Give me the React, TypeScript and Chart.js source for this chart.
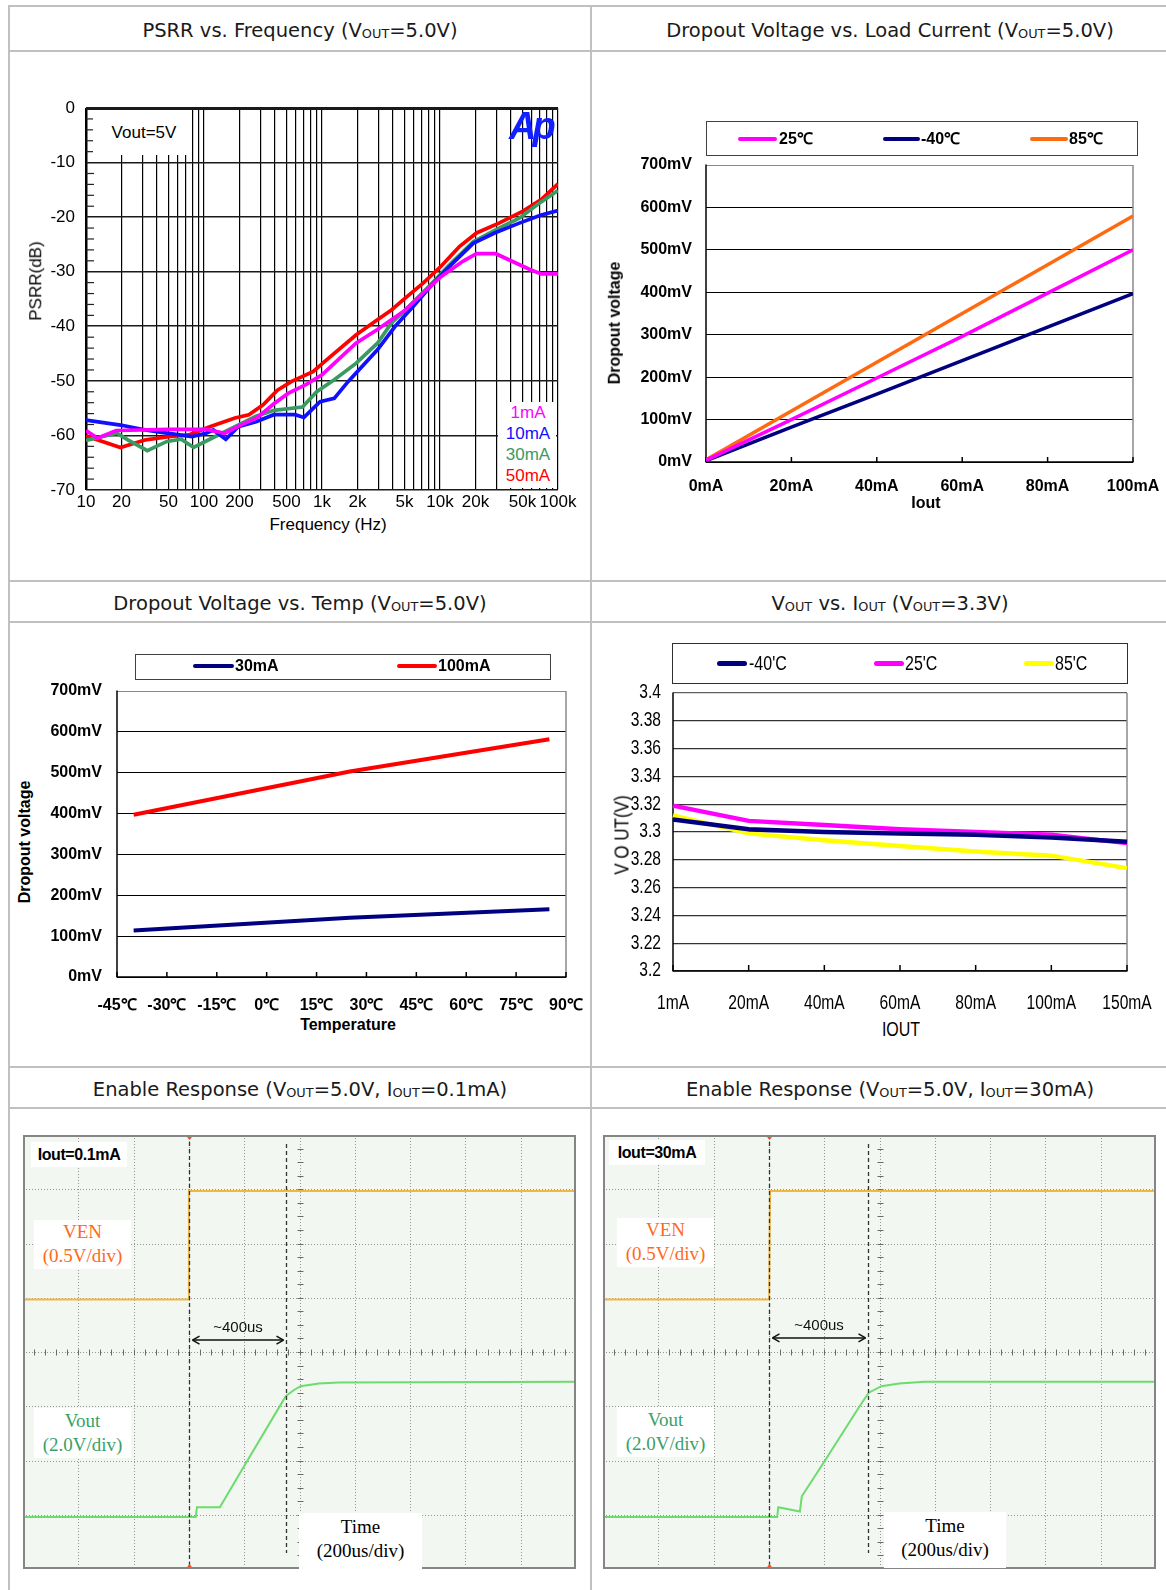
import React, { useEffect, useRef } from 'react';
import { Chart, registerables } from 'chart.js';
Chart.register(...registerables);

const SANS = "'Liberation Sans', Arial, sans-serif";
const SERIF = "'Liberation Serif', 'Times New Roman', serif";
const HEAD = "'DejaVu Sans', sans-serif";

// ---------- PSRR vs Frequency ----------
const PSRR_GRID_HZ = [10, 20, 30, 40, 50, 60, 70, 80, 90, 100, 200, 300, 400, 500, 600, 700, 800, 900, 1000, 2000, 3000, 4000, 5000, 6000, 7000, 8000, 9000, 10000, 20000, 30000, 40000, 50000, 60000, 70000, 80000, 90000, 100000];
const PSRR_LABEL_HZ = [10, 20, 50, 100, 200, 500, 1000, 2000, 5000, 10000, 20000, 50000, 100000];
const PSRR_LABEL_TEXT = ['10', '20', '50', '100', '200', '500', '1k', '2k', '5k', '10k', '20k', '50k', '100k'];
const PSRR_SERIES = ['1mA', '10mA', '30mA', '50mA'];
const PSRR_1MA_HZ = [10, 12.5, 18, 50, 104, 150, 200, 280, 391, 516, 731, 1000, 1270, 1940, 2950, 3880, 5100, 7200, 10200, 15600, 20400, 29700, 43900, 57800, 72000, 100000];
const PSRR_1MA_DB = [-59.1, -60.5, -59.1, -58.9, -58.9, -59.6, -58.2, -56.8, -54.2, -52.3, -50.7, -48.9, -46.8, -43.1, -40.6, -38.8, -37.0, -33.9, -30.9, -28.1, -26.7, -26.7, -28.4, -29.6, -30.4, -30.4];
const PSRR_10MA_HZ = [10, 19.6, 29.8, 45.2, 79, 104, 120, 153, 195, 276, 391, 591, 703, 963, 1270, 1670, 2950, 4170, 5900, 8300, 11700, 19100, 29000, 47000, 72000, 100000];
const PSRR_10MA_DB = [-57.2, -58.1, -58.9, -59.5, -60.2, -59.6, -59.0, -60.7, -58.4, -57.5, -56.2, -56.2, -56.7, -53.8, -53.2, -50.1, -44.3, -40.0, -36.4, -32.7, -29.3, -24.8, -22.9, -21.1, -19.6, -18.8];
const PSRR_30MA_HZ = [10, 18.3, 22.6, 33.1, 48.5, 64, 81.7, 112, 183, 276, 391, 683, 902, 1270, 1940, 2950, 3880, 5100, 8300, 11700, 19100, 31600, 47000, 67000, 100000];
const PSRR_30MA_DB = [-60.9, -59.6, -60.8, -62.8, -61.1, -60.7, -62.2, -60.7, -58.4, -56.5, -55.4, -54.8, -52.0, -49.8, -46.8, -43.1, -39.4, -37.0, -32.4, -29.0, -24.5, -22.0, -20.2, -17.7, -15.1];
const PSRR_50MA_HZ = [10, 19.6, 32, 52, 74, 112, 183, 240, 317, 419, 554, 839, 1100, 1940, 2950, 3880, 5100, 7200, 10200, 14600, 20400, 31600, 50500, 72000, 100000];
const PSRR_50MA_DB = [-60.1, -62.2, -60.8, -60.2, -59.9, -58.4, -56.8, -56.2, -54.4, -51.7, -50.1, -48.3, -46.1, -41.6, -38.8, -37.0, -34.8, -32.1, -29.0, -25.4, -22.9, -21.1, -18.9, -16.8, -13.9];
const PSRR_COLORS = ['#ff00ff', '#1010ff', '#3a9a62', '#ff0000'];

// ---------- Dropout vs Load current ----------
const LOAD_MA = [0, 20, 40, 60, 80, 100];
const DROP_25C = [4, 100, 198, 296, 398, 500];
const DROP_M40C = [3, 82, 160, 239, 318, 397];
const DROP_85C = [5, 120, 235, 350, 465, 580];

// ---------- Dropout vs Temperature ----------
const TEMP_C = [-40, 25, 85];
const DROP_30MA = [114, 145, 166];
const DROP_100MA = [397, 503, 582];

// ---------- Vout vs Iout ----------
const IOUT_LABELS = ['1mA', '20mA', '40mA', '60mA', '80mA', '100mA', '150mA'];
const VOUT_M40C = [3.309, 3.302, 3.3, 3.299, 3.298, 3.296, 3.293];
const VOUT_25C = [3.319, 3.308, 3.305, 3.302, 3.3, 3.298, 3.292];
const VOUT_85C = [3.312, 3.299, 3.294, 3.29, 3.286, 3.283, 3.274];

// ---------- Enable response scope traces (time us, divisions from bottom) ----------
const EN1_VEN_T = [-600, -3, 0, 1400];
const EN1_VEN_DIV = [4.97, 4.97, 6.97, 6.97];
const EN1_VOUT_T = [-600, 25, 29, 112, 200, 325, 351, 380, 404, 470, 542, 1400];
const EN1_VOUT_DIV = [0.96, 0.96, 1.14, 1.14, 1.9, 2.97, 3.19, 3.3, 3.37, 3.42, 3.44, 3.45];
const EN1_CURSORS = [0, 351];
const EN2_VEN_T = [-600, 1, 4, 1400];
const EN2_VEN_DIV = [4.97, 4.97, 6.97, 6.97];
const EN2_VOUT_T = [-600, 30, 34, 112, 119, 203, 328, 361, 407, 471, 563, 1400];
const EN2_VOUT_DIV = [0.96, 0.96, 1.14, 1.06, 1.34, 2.0, 3.0, 3.25, 3.37, 3.42, 3.45, 3.45];
const EN2_CURSORS = [2, 358];

const zip = (xs: number[], ys: number[]) => xs.map((x, i) => ({ x, y: ys[i] }));

function line(ctx: CanvasRenderingContext2D, x1: number, y1: number, x2: number, y2: number) {
  ctx.beginPath();
  ctx.moveTo(x1, y1);
  ctx.lineTo(x2, y2);
  ctx.stroke();
}

const ChartCanvas = ({ x, y, w, h, config }: { x: number; y: number; w: number; h: number; config: () => any }) => {
  const ref = useRef<HTMLCanvasElement>(null);
  useEffect(() => {
    const chart = new Chart(ref.current as HTMLCanvasElement, config());
    return () => chart.destroy();
  }, []);
  return <canvas ref={ref} width={w} height={h} style={{ position: 'absolute', left: x, top: y, width: w, height: h }} />;
};

const baseOpts = (pad: { top: number; right: number }) => ({
  animation: false,
  responsive: false,
  devicePixelRatio: 1,
  layout: { padding: { left: 0, top: pad.top, right: pad.right, bottom: 0 } },
  plugins: { legend: { display: false }, tooltip: { enabled: false } },
  elements: { point: { radius: 0 }, line: { tension: 0 } },
});

const framePlugin = (rightColor: string, tick: number, axisW: number) => ({
  id: 'frame',
  beforeDatasetsDraw(chart: any) {
    const { ctx, chartArea: a, scales } = chart;
    ctx.save();
    ctx.strokeStyle = rightColor;
    ctx.lineWidth = 1.5;
    line(ctx, a.right, a.top, a.right, a.bottom);
    ctx.strokeStyle = '#000';
    ctx.lineWidth = axisW;
    line(ctx, a.left, a.top - 0.5, a.left, a.bottom + 0.5);
    line(ctx, a.left, a.bottom, a.right + 0.5, a.bottom);
    const xs = scales.x;
    ctx.lineWidth = 1.5;
    xs.ticks.forEach((_t: any, i: number) => {
      const px = xs.getPixelForTick(i);
      line(ctx, px, a.bottom, px, a.bottom - tick);
    });
    ctx.restore();
  },
});

// ---------- configs ----------
const psrrConfig = () => ({
  type: 'line',
  data: {
    datasets: [
      zip(PSRR_1MA_HZ, PSRR_1MA_DB),
      zip(PSRR_10MA_HZ, PSRR_10MA_DB),
      zip(PSRR_30MA_HZ, PSRR_30MA_DB),
      zip(PSRR_50MA_HZ, PSRR_50MA_DB),
    ].map((d, i) => ({ label: PSRR_SERIES[i], data: d, borderColor: PSRR_COLORS[i], borderWidth: 3.7, pointRadius: 0 })),
  },
  options: {
    ...baseOpts({ top: 22, right: 22 }),
    scales: {
      x: {
        type: 'logarithmic',
        min: 10,
        max: 100000,
        afterFit: (s: any) => { s.height = 25; },
        afterBuildTicks: (s: any) => { s.ticks = PSRR_GRID_HZ.map((v) => ({ value: v })); },
        ticks: {
          autoSkip: false, maxRotation: 0, minRotation: 0, padding: 2, color: '#000',
          font: { family: SANS, size: 17 },
          callback: (v: number) => { const i = PSRR_LABEL_HZ.indexOf(v); return i >= 0 ? PSRR_LABEL_TEXT[i] : ''; },
        },
        grid: { color: '#000', lineWidth: (c: any) => (c.tick && c.tick.value === 10 ? 2.5 : 1.2), drawTicks: false },
        border: { display: false },
      },
      y: {
        min: -70,
        max: 0,
        afterFit: (s: any) => { s.width = 56; },
        ticks: { stepSize: 10, padding: 11, color: '#000', font: { family: SANS, size: 17 } },
        grid: { color: '#1a1a1a', lineWidth: (c: any) => (c.tick && c.tick.value === 0 ? 3 : 1.6), drawTicks: false },
        border: { display: false },
      },
    },
  },
  plugins: [
    {
      id: 'minor',
      afterDraw(chart: any) {
        const { ctx, chartArea: a, scales } = chart;
        ctx.save();
        ctx.strokeStyle = '#222';
        ctx.lineWidth = 1.2;
        for (let v = -68; v < 0; v += 2) {
          if (v % 10 === 0) continue;
          const py = scales.y.getPixelForValue(v);
          line(ctx, a.left, py, a.left + 8, py);
        }
        ctx.restore();
      },
    },
  ],
});

const boldTick = (size = 16) => ({ color: '#000', font: { family: SANS, size, weight: 'bold' } });

const loadConfig = () => ({
  type: 'line',
  data: {
    datasets: [
      { data: zip(LOAD_MA, DROP_25C), borderColor: '#ff00ff', borderWidth: 3.5 },
      { data: zip(LOAD_MA, DROP_M40C), borderColor: '#000080', borderWidth: 3.5 },
      { data: zip(LOAD_MA, DROP_85C), borderColor: '#ff6a10', borderWidth: 3.5 },
    ],
  },
  options: {
    ...baseOpts({ top: 24, right: 42 }),
    scales: {
      x: {
        type: 'linear', min: 0, max: 100,
        afterFit: (s: any) => { s.height = 33; },
        ticks: { ...boldTick(), stepSize: 20, padding: 15, maxRotation: 0, autoSkip: false, callback: (v: number) => v + 'mA' },
        grid: { display: false, drawTicks: false },
        border: { display: false },
      },
      y: {
        min: 0, max: 700,
        afterFit: (s: any) => { s.width = 86; },
        ticks: { ...boldTick(), stepSize: 100, padding: 14, callback: (v: number) => v + 'mV' },
        grid: { color: (c: any) => (c.tick && c.tick.value === 700 ? '#8a8a8a' : '#000'), lineWidth: 1, drawTicks: false },
        border: { display: false },
      },
    },
  },
  plugins: [framePlugin('#8a8a8a', 5, 1.5)],
});

const tempConfig = () => ({
  type: 'line',
  data: {
    datasets: [
      { data: zip(TEMP_C, DROP_30MA), borderColor: '#000080', borderWidth: 4 },
      { data: zip(TEMP_C, DROP_100MA), borderColor: '#ff0000', borderWidth: 4 },
    ],
  },
  options: {
    ...baseOpts({ top: 25, right: 38 }),
    scales: {
      x: {
        type: 'linear', min: -45, max: 90,
        afterFit: (s: any) => { s.height = 35; },
        ticks: { ...boldTick(), stepSize: 15, padding: 19, maxRotation: 0, autoSkip: false, callback: (v: number) => v + '℃' },
        grid: { display: false, drawTicks: false },
        border: { display: false },
      },
      y: {
        min: 0, max: 700,
        afterFit: (s: any) => { s.width = 77; },
        ticks: { ...boldTick(), stepSize: 100, padding: 15, callback: (v: number) => v + 'mV' },
        grid: { color: (c: any) => (c.tick && c.tick.value === 700 ? '#8a8a8a' : '#000'), lineWidth: 1, drawTicks: false },
        border: { display: false },
      },
    },
  },
  plugins: [framePlugin('#8a8a8a', 5, 1.5)],
});

const fmtV = (v: number) => String(Math.round(v * 100) / 100);

const voutConfig = () => ({
  type: 'line',
  data: {
    labels: IOUT_LABELS,
    datasets: [
      { data: VOUT_M40C, borderColor: '#000080', borderWidth: 4.5 },
      { data: VOUT_25C, borderColor: '#ff00ff', borderWidth: 4.5 },
      { data: VOUT_85C, borderColor: '#ffff00', borderWidth: 4.5 },
    ],
  },
  options: {
    ...baseOpts({ top: 13, right: 33 }),
    scales: {
      x: {
        type: 'category', offset: false,
        afterFit: (s: any) => { s.height = 44; },
        ticks: { display: false, autoSkip: false },
        grid: { display: false, drawTicks: false },
        border: { display: false },
      },
      y: {
        min: 3.2, max: 3.4,
        afterFit: (s: any) => { s.width = 73; },
        ticks: { display: false, stepSize: 0.02 },
        grid: { color: (c: any) => (c.tick && Math.abs(c.tick.value - 3.4) < 1e-6 ? '#606060' : '#333'), lineWidth: 1.2, drawTicks: false },
        border: { display: false },
      },
    },
  },
  plugins: [
    framePlugin('#8a8a8a', 6, 1.5),
    {
      id: 'narrowLabels',
      afterDraw(chart: any) {
        const { ctx, chartArea: a, scales } = chart;
        const xs = scales.x, ys = scales.y;
        ctx.save();
        ctx.fillStyle = '#000';
        ctx.font = `19.5px ${SANS}`;
        ctx.textBaseline = 'middle';
        ys.ticks.forEach((t: any, i: number) => {
          ctx.save();
          ctx.translate(a.left - 12, ys.getPixelForTick(i));
          ctx.scale(0.8, 1);
          ctx.textAlign = 'right';
          ctx.fillText(fmtV(t.value), 0, 0);
          ctx.restore();
        });
        xs.ticks.forEach((t: any, i: number) => {
          ctx.save();
          ctx.translate(xs.getPixelForTick(i), a.bottom + 33);
          ctx.scale(0.8, 1);
          ctx.textAlign = 'center';
          ctx.fillText(String(xs.getLabelForValue(t.value)), 0, 0);
          ctx.restore();
        });
        ctx.restore();
      },
    },
  ],
});

const scopeConfig = (venT: number[], venD: number[], voT: number[], voD: number[], cursors: number[], arrowDiv: number) => () => ({
  type: 'line',
  data: {
    datasets: [
      { data: zip(venT, venD), borderColor: '#f3b640', borderWidth: 2 },
      { data: zip(voT, voD), borderColor: '#6cdc6c', borderWidth: 2 },
    ],
  },
  options: {
    ...baseOpts({ top: 0, right: 0 }),
    scales: {
      x: { type: 'linear', min: -600, max: 1400, display: false },
      y: { type: 'linear', min: 0, max: 8, display: false },
    },
  },
  plugins: [
    {
      id: 'scope',
      beforeDatasetsDraw(chart: any) {
        const { ctx, chartArea: a, scales } = chart;
        const xs = scales.x, ys = scales.y;
        ctx.save();
        ctx.fillStyle = '#f3f7f2';
        ctx.fillRect(a.left, a.top, a.right - a.left, a.bottom - a.top);
        ctx.strokeStyle = '#949494';
        ctx.lineWidth = 1;
        ctx.setLineDash([1, 2]);
        for (let t = -400; t <= 1200; t += 200) {
          const px = Math.round(xs.getPixelForValue(t)) + 0.5;
          line(ctx, px, a.top, px, a.bottom);
        }
        for (let d = 1; d <= 7; d++) {
          const py = Math.round(ys.getPixelForValue(d)) + 0.5;
          line(ctx, a.left, py, a.right, py);
        }
        ctx.setLineDash([]);
        ctx.strokeStyle = '#6a6a6a';
        const cx = Math.round(xs.getPixelForValue(400)) + 0.5;
        const cy = Math.round(ys.getPixelForValue(4)) + 0.5;
        for (let t = -600; t <= 1400; t += 40) {
          const px = Math.round(xs.getPixelForValue(t)) + 0.5;
          line(ctx, px, cy - 3, px, cy + 3);
        }
        for (let d = 0; d <= 8; d += 0.25) {
          const py = Math.round(ys.getPixelForValue(d)) + 0.5;
          line(ctx, cx - 3, py, cx + 3, py);
        }
        ctx.restore();
      },
      afterDatasetsDraw(chart: any) {
        const { ctx, chartArea: a, scales } = chart;
        const xs = scales.x, ys = scales.y;
        ctx.save();
        ctx.strokeStyle = '#333';
        ctx.lineWidth = 1.3;
        ctx.setLineDash([4, 3]);
        const c0 = Math.round(xs.getPixelForValue(cursors[0])) + 0.5;
        const c1 = Math.round(xs.getPixelForValue(cursors[1])) + 0.5;
        line(ctx, c0, a.top, c0, a.bottom);
        line(ctx, c1, a.top + 9, c1, a.bottom - 16);
        ctx.setLineDash([]);
        const ay = ys.getPixelForValue(arrowDiv);
        ctx.strokeStyle = '#111';
        ctx.lineWidth = 1.5;
        const x0 = c0 + 3, x1 = c1 - 3;
        line(ctx, x0, ay, x1, ay);
        line(ctx, x0, ay, x0 + 7, ay - 4); line(ctx, x0, ay, x0 + 7, ay + 4);
        line(ctx, x1, ay, x1 - 7, ay - 4); line(ctx, x1, ay, x1 - 7, ay + 4);
        ctx.fillStyle = '#111';
        ctx.font = `15px ${SANS}`;
        ctx.textAlign = 'center';
        ctx.textBaseline = 'middle';
        ctx.fillText('~400us', (x0 + x1) / 2, ay - 12);
        ctx.fillStyle = '#ff4a1a';
        ctx.beginPath(); ctx.moveTo(c0 - 4, a.top); ctx.lineTo(c0 + 4, a.top); ctx.lineTo(c0, a.top + 5); ctx.fill();
        ctx.beginPath(); ctx.moveTo(c0 - 4, a.bottom); ctx.lineTo(c0 + 4, a.bottom); ctx.lineTo(c0, a.bottom - 5); ctx.fill();
        ctx.strokeStyle = '#858585';
        ctx.lineWidth = 2;
        ctx.strokeRect(a.left + 1, a.top + 1, a.right - a.left - 2, a.bottom - a.top - 2);
        ctx.restore();
      },
    },
  ],
});

// ---------- HTML helpers ----------
const C = ({ x, y, children, style, rot, sx }: { x: number; y: number; children: any; style?: any; rot?: boolean; sx?: number }) => (
  <div style={{ position: 'absolute', left: x, top: y, transform: `translate(-50%,-50%)${rot ? ' rotate(-90deg)' : ''}${sx ? ` scaleX(${sx})` : ''}`, whiteSpace: 'nowrap', lineHeight: 1.15, ...style }}>{children}</div>
);
const L = ({ x, y, children, style, sx }: { x: number; y: number; children: any; style?: any; sx?: number }) => (
  <div style={{ position: 'absolute', left: x, top: y, transform: `translateY(-50%)${sx ? ` scaleX(${sx})` : ''}`, transformOrigin: '0 50%', whiteSpace: 'nowrap', lineHeight: 1.15, ...style }}>{children}</div>
);
const Box = ({ x, y, w, h, style, children }: { x: number; y: number; w: number; h: number; style?: any; children?: any }) => (
  <div style={{ position: 'absolute', left: x, top: y, width: w, height: h, boxSizing: 'border-box', ...style }}>{children}</div>
);
const Sample = ({ x1, x2, y, color, t }: { x1: number; x2: number; y: number; color: string; t: number }) => (
  <div style={{ position: 'absolute', left: x1, top: y - t / 2, width: x2 - x1, height: t, background: color, borderRadius: t / 2 }} />
);
const Sub = ({ children }: { children: any }) => <span style={{ fontSize: '0.66em', position: 'relative', top: '0.08em' }}>{children}</span>;
const Head = ({ x, y, w, h, children }: { x: number; y: number; w: number; h: number; children: any }) => (
  <div style={{ position: 'absolute', left: x, top: y, width: w, height: h, paddingTop: 3, boxSizing: 'border-box', display: 'flex', alignItems: 'center', justifyContent: 'center', fontFamily: HEAD, fontSize: 19.5, color: '#1a1a1a', whiteSpace: 'nowrap' }}>
    <span>{children}</span>
  </div>
);

const GRID_C = '#c0c0c0';
const bold16 = { fontFamily: SANS, fontSize: 16, fontWeight: 'bold', color: '#000' };
const narrow20 = { fontFamily: SANS, fontSize: 20, color: '#000' };
const serif19 = { fontFamily: SERIF, fontSize: 19, lineHeight: '24px' };

const Scope = ({ fx, iout, venT, venD, voT, voD, cursors, arrowDiv, o }: any) => (
  <>
    <ChartCanvas x={fx} y={1135} w={553} h={434} config={scopeConfig(venT, venD, voT, voD, cursors, arrowDiv)} />
    <Box x={fx + o.iout[0]} y={1135 + o.iout[1]} w={o.iout[2]} h={25} style={{ background: '#fff', display: 'flex', alignItems: 'center', justifyContent: 'center', fontFamily: SANS, fontWeight: 'bold', fontSize: 16, color: '#000', letterSpacing: '-0.4px' }}>{iout}</Box>
    <Box x={fx + o.ven[0]} y={1135 + o.ven[1]} w={97} h={49} style={{ background: '#fff', textAlign: 'center', color: '#ff6a1a', ...serif19 }}>VEN<br />(0.5V/div)</Box>
    <Box x={fx + o.vout[0]} y={1135 + o.vout[1]} w={97} h={50} style={{ background: '#fff', textAlign: 'center', color: '#3a9f6a', paddingTop: 1, ...serif19 }}>Vout<br />(2.0V/div)</Box>
    <Box x={fx + o.time[0]} y={1135 + o.time[1]} w={o.time[2]} h={56} style={{ background: '#fff', textAlign: 'center', color: '#000', paddingTop: 2, ...serif19 }}>Time<br />(200us/div)</Box>
  </>
);

export default function App() {
  useEffect(() => {
    document.body.style.overflow = 'hidden';
  }, []);
  return (
    <div style={{ position: 'absolute', left: 0, top: 0, width: 1166, height: 1590, overflow: 'hidden', background: '#fff' }}>
      {[5, 50, 580, 621, 1066, 1107].map((y) => (
        <div key={'h' + y} style={{ position: 'absolute', left: 8, top: y, width: 1158, height: 2, background: GRID_C }} />
      ))}
      {[8, 590].map((x) => (
        <div key={'v' + x} style={{ position: 'absolute', left: x, top: 5, width: 2, height: 1585, background: GRID_C }} />
      ))}

      <Head x={10} y={7} w={580} h={43}>PSRR vs. Frequency (V<Sub>OUT</Sub>=5.0V)</Head>
      <Head x={592} y={7} w={596} h={43}>Dropout Voltage vs. Load Current (V<Sub>OUT</Sub>=5.0V)</Head>
      <Head x={10} y={582} w={580} h={39}>Dropout Voltage vs. Temp (V<Sub>OUT</Sub>=5.0V)</Head>
      <Head x={592} y={582} w={596} h={39}>V<Sub>OUT</Sub> vs. I<Sub>OUT</Sub> (V<Sub>OUT</Sub>=3.3V)</Head>
      <Head x={10} y={1068} w={580} h={39}>Enable Response (V<Sub>OUT</Sub>=5.0V, I<Sub>OUT</Sub>=0.1mA)</Head>
      <Head x={592} y={1068} w={596} h={39}>Enable Response (V<Sub>OUT</Sub>=5.0V, I<Sub>OUT</Sub>=30mA)</Head>

      {/* PSRR */}
      <ChartCanvas x={30} y={86} w={550} h={429} config={psrrConfig} />
      <Box x={93} y={110} w={95} h={45} style={{ background: '#fff' }} />
      <C x={144} y={133} style={{ fontFamily: SANS, fontSize: 17, color: '#000' }}>Vout=5V</C>
      <Box x={498} y={402} w={58} h={86} style={{ background: '#fff' }} />
      {PSRR_SERIES.map((s, i) => (
        <C key={s} x={528} y={413 + i * 21} style={{ fontFamily: SANS, fontSize: 17, color: PSRR_COLORS[i] }}>{s}</C>
      ))}
      <div style={{ position: 'absolute', left: 509, top: 107, fontFamily: SANS, fontSize: 38, fontWeight: 'bold', fontStyle: 'italic', color: '#1020ff', lineHeight: 1, letterSpacing: '-4px' }}>Ap</div>
      <C x={36} y={281} rot style={{ fontFamily: SANS, fontSize: 17, color: '#000' }}>PSRR(dB)</C>
      <C x={328} y={525} style={{ fontFamily: SANS, fontSize: 17, color: '#000' }}>Frequency (Hz)</C>

      {/* Dropout vs load */}
      <ChartCanvas x={620} y={141} w={555} h={354} config={loadConfig} />
      <Box x={706} y={121} w={432} h={35} style={{ border: '1.5px solid #404040' }} />
      <Sample x1={738} x2={777} y={139} color="#ff00ff" t={4} />
      <L x={779} y={139} style={bold16}>25℃</L>
      <Sample x1={883} x2={920} y={139} color="#000080" t={4} />
      <L x={921} y={139} style={bold16}>-40℃</L>
      <Sample x1={1030} x2={1068} y={139} color="#ff6a10" t={4} />
      <L x={1069} y={139} style={bold16}>85℃</L>
      <C x={615} y={323} rot style={bold16}>Dropout voltage</C>
      <C x={926} y={503} style={bold16}>Iout</C>

      {/* Dropout vs temp */}
      <ChartCanvas x={40} y={666} w={564} h={346} config={tempConfig} />
      <Box x={135} y={654} w={416} h={26} style={{ border: '1.5px solid #404040' }} />
      <Sample x1={193} x2={234} y={666} color="#000080" t={4} />
      <L x={235} y={666} style={bold16}>30mA</L>
      <Sample x1={397} x2={437} y={666} color="#ff0000" t={4} />
      <L x={438} y={666} style={bold16}>100mA</L>
      <C x={25} y={842} rot style={bold16}>Dropout voltage</C>
      <C x={348} y={1025} style={bold16}>Temperature</C>

      {/* Vout vs Iout */}
      <ChartCanvas x={600} y={680} w={560} h={335} config={voutConfig} />
      <Box x={672} y={643} w={456} h={41} style={{ border: '1.5px solid #303030' }} />
      <Sample x1={717} x2={747} y={663} color="#000080" t={5} />
      <L x={749} y={663} sx={0.8} style={narrow20}>-40'C</L>
      <Sample x1={874} x2={904} y={663} color="#ff00ff" t={5} />
      <L x={905} y={663} sx={0.8} style={narrow20}>25'C</L>
      <Sample x1={1024} x2={1054} y={663} color="#ffff00" t={5} />
      <L x={1055} y={663} sx={0.8} style={narrow20}>85'C</L>
      <C x={622} y={835} rot sx={0.85} style={narrow20}>V O UT(V)</C>
      <C x={901} y={1029} sx={0.8} style={narrow20}>IOUT</C>

      {/* Enable response scopes */}
      <Scope fx={23} iout="Iout=0.1mA" venT={EN1_VEN_T} venD={EN1_VEN_DIV} voT={EN1_VOUT_T} voD={EN1_VOUT_DIV} cursors={EN1_CURSORS} arrowDiv={4.22}
        o={{ iout: [8, 7, 96], ven: [11, 85], vout: [11, 273], time: [276, 378, 123] }} />
      <Scope fx={603} iout="Iout=30mA" venT={EN2_VEN_T} venD={EN2_VEN_DIV} voT={EN2_VOUT_T} voD={EN2_VOUT_DIV} cursors={EN2_CURSORS} arrowDiv={4.26}
        o={{ iout: [6, 5, 96], ven: [14, 83], vout: [14, 272], time: [281, 377, 122] }} />
    </div>
  );
}
